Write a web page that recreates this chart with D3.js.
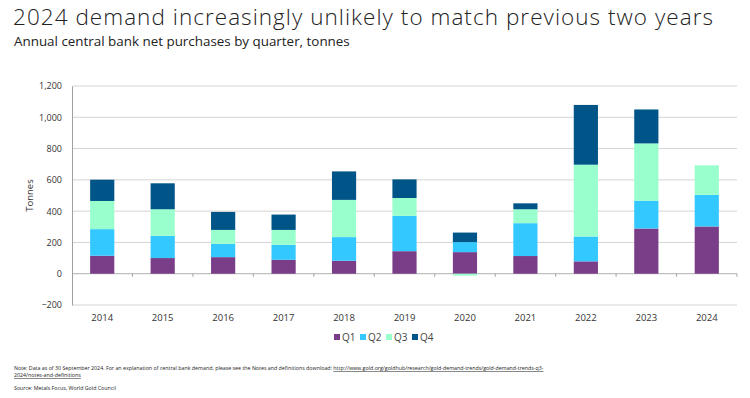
<!DOCTYPE html>
<html>
<head>
<meta charset="utf-8">
<script src="https://cdn.jsdelivr.net/npm/d3@7"></script>
<style>
  body { margin: 0; background: #fff; }
  text { font-family: "Open Sans", sans-serif; }
</style>
</head>
<body>
<div id="chart"></div>
<script>
// data (tonnes)
var years = ['2014', '2015', '2016', '2017', '2018', '2019', '2020', '2021', '2022', '2023', '2024'];
var q1 = [115, 100, 106, 89, 83, 144, 138, 113, 79, 289, 302];
var q2 = [170, 142, 85, 96, 151, 226, 64, 210, 159, 178, 202];
var q3 = [180, 170, 89, 95, 238, 114, -12, 89, 459, 366, 189];
var q4 = [136, 166, 115, 98, 182, 119, 61, 38, 382, 217, 0];
var quarters = ['Q1', 'Q2', 'Q3', 'Q4'];
var colors = ['#7a3d88', '#33c8ff', '#99ffcc', '#005588'];
var yTicks = [-200, 0, 200, 400, 600, 800, 1000, 1200];

var rows = years.map(function(y, i) {
  return { year: y, Q1: q1[i], Q2: q2[i], Q3: q3[i], Q4: q4[i] };
});

var width = 750, height = 398;
var margin = { top: 86, right: 13, bottom: 93, left: 72 };

var svg = d3.select('#chart').append('svg')
  .attr('width', width)
  .attr('height', height);

// titles
svg.append('text')
  .attr('x', 13).attr('y', 24.5)
  .attr('textLength', 700).attr('lengthAdjust', 'spacing')
  .style('font-size', '22.5px').style('font-weight', 300).style('fill', '#222')
  .text('2024 demand increasingly unlikely to match previous two years');
svg.append('text')
  .attr('x', 14).attr('y', 45.5)
  .style('font-size', '13.4px').style('fill', '#222')
  .text('Annual central bank net purchases by quarter, tonnes');

var yS = d3.scaleLinear()
  .domain([-200, 1200])
  .range([height - margin.bottom, margin.top]);
var xS = d3.scaleBand()
  .domain(years)
  .range([margin.left, width - margin.right])
  .paddingInner(0.6)
  .paddingOuter(0.3);

// gridlines
svg.append('g')
  .selectAll('line')
  .data(yTicks)
  .enter().append('line')
  .attr('x1', margin.left).attr('x2', width - margin.right)
  .attr('y1', function(d) { return yS(d); })
  .attr('y2', function(d) { return yS(d); })
  .style('stroke', function(d) { return d === 0 ? '#b0b0b0' : '#d4d4d4'; })
  .style('stroke-width', 1);

var stack = d3.stack().keys(quarters).offset(d3.stackOffsetDiverging);
var series = stack(rows);

svg.append('g')
  .selectAll('g')
  .data(series)
  .enter().append('g')
  .style('fill', function(d, i) { return colors[i]; })
  .selectAll('rect')
  .data(function(d) { return d; })
  .enter().append('rect')
  .attr('x', function(d) { return xS(d.data.year); })
  .attr('width', xS.bandwidth())
  .attr('y', function(d) { return yS(Math.max(d[0], d[1])); })
  .attr('height', function(d) { return Math.abs(yS(d[0]) - yS(d[1])); });

// y axis
var yAxis = svg.append('g')
  .attr('transform', 'translate(' + margin.left + ',0)')
  .call(d3.axisLeft(yS).tickValues(yTicks).tickFormat(d3.format(',')).tickSize(0).tickPadding(10));
yAxis.select('.domain').style('stroke', '#a0a0a0');
yAxis.selectAll('text').style('font-size', '9px').style('fill', '#333').style('font-family', '"Open Sans", sans-serif');

// zero axis with boundary ticks
var step = xS.step();
svg.append('g')
  .selectAll('line')
  .data(years)
  .enter().append('line')
  .attr('x1', function(d) { return xS(d) + xS.bandwidth() + (step - xS.bandwidth()) / 2; })
  .attr('x2', function(d) { return xS(d) + xS.bandwidth() + (step - xS.bandwidth()) / 2; })
  .attr('y1', yS(0)).attr('y2', yS(0) + 3)
  .style('stroke', '#a0a0a0');

// category labels
var xAxis = svg.append('g')
  .attr('transform', 'translate(0,' + yS(-200) + ')')
  .call(d3.axisBottom(xS).tickSize(0).tickPadding(9));
xAxis.select('.domain').remove();
xAxis.selectAll('text').style('font-size', '9.5px').style('fill', '#333').style('font-family', '"Open Sans", sans-serif');

svg.append('text')
  .attr('transform', 'translate(33,' + yS(500) + ') rotate(-90)')
  .attr('text-anchor', 'middle')
  .style('font-size', '9.5px').style('fill', '#333')
  .text('Tonnes');

// legend
var legend = svg.append('g')
  .selectAll('g')
  .data(quarters)
  .enter().append('g')
  .attr('transform', function(d, i) { return 'translate(' + (334 + i * 26) + ',334)'; });
legend.append('rect')
  .attr('width', 6).attr('height', 6)
  .style('fill', function(d, i) { return colors[i]; });
legend.append('text')
  .attr('x', 8).attr('y', 6.5)
  .style('font-size', '10px').style('fill', '#444')
  .text(function(d) { return d; });

// notes
var note = svg.append('text')
  .attr('x', 14).attr('y', 370)
  .style('font-size', '5.3px').style('fill', '#222');
note.append('tspan')
  .text('Note: Data as of 30 September 2024. For an explanation of central bank demand, please see the Notes and definitions download: ');
note.append('tspan')
  .style('text-decoration', 'underline')
  .text('http://www.gold.org/goldhub/research/gold-demand-trends/gold-demand-trends-q3-');
svg.append('text')
  .attr('x', 14).attr('y', 377)
  .style('font-size', '5.3px').style('fill', '#222').style('text-decoration', 'underline')
  .text('2024/notes-and-definitions');
svg.append('text')
  .attr('x', 14).attr('y', 390)
  .style('font-size', '5.3px').style('fill', '#222')
  .text('Source: Metals Focus, World Gold Council');
</script>
</body>
</html>
